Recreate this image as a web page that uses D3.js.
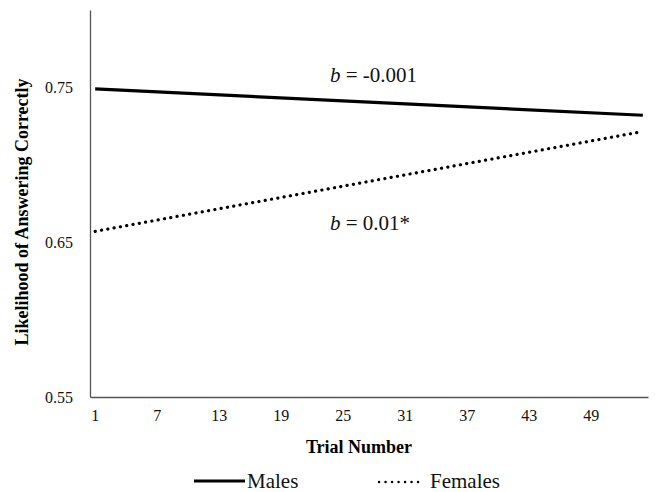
<!DOCTYPE html>
<html>
<head>
<meta charset="utf-8">
<script src="https://cdn.jsdelivr.net/npm/d3@7"></script>
<style>
  body { margin: 0; background: #fff; }
</style>
</head>
<body>
<div id="chart"></div>
<script>
// Categories: trial numbers 1..54
const trials = d3.range(1, 55);
const xTickLabels = [1, 7, 13, 19, 25, 31, 37, 43, 49];
const yTickLabels = [0.55, 0.65, 0.75];

// Fitted lines (start and end of each series)
const maleTrials = [1, 54];
const maleValues = [0.749, 0.732];
const femaleTrials = [1, 54];
const femaleValues = [0.657, 0.7215];

const seriesNames = ['Males', 'Females'];
const annotations = ['-0.001', '0.01*'];

const width = 656, height = 492;
const margin = { top: 10, right: 8, bottom: 95, left: 90 };
const serif = "'Liberation Serif', 'Times New Roman', 'DejaVu Serif', serif";

const svg = d3.select('#chart').append('svg')
    .attr('width', width)
    .attr('height', height)
    .attr('font-family', serif);

const x = d3.scaleBand()
    .domain(trials)
    .range([margin.left, width - margin.right]);

const y = d3.scaleLinear()
    .domain([0.55, 0.80])
    .range([height - margin.bottom, margin.top]);

const cx = d => x(d) + x.bandwidth() / 2;

// Axes
const yAxis = svg.append('g')
    .attr('transform', `translate(${margin.left},0)`)
    .call(d3.axisLeft(y).tickValues(yTickLabels).tickSize(0).tickPadding(17)
        .tickFormat(d3.format('.2f')));
yAxis.attr('font-family', serif);
yAxis.select('.domain').attr('stroke', '#555').attr('stroke-width', 1.3);
yAxis.selectAll('text').attr('font-size', 16).attr('fill', '#111');

const xAxis = svg.append('g')
    .attr('transform', `translate(0,${height - margin.bottom})`)
    .call(d3.axisBottom(x).tickValues(xTickLabels).tickSize(0).tickPadding(13));
xAxis.attr('font-family', serif);
xAxis.select('.domain').attr('stroke', '#555').attr('stroke-width', 1.3);
xAxis.selectAll('text').attr('font-size', 16).attr('fill', '#111');

// Axis titles
svg.append('text')
    .attr('transform', `translate(28,212) rotate(-90)`)
    .attr('text-anchor', 'middle')
    .attr('font-size', 18)
    .attr('font-weight', 'bold')
    .text('Likelihood of Answering Correctly');

svg.append('text')
    .attr('x', 359)
    .attr('y', 453)
    .attr('text-anchor', 'middle')
    .attr('font-size', 18)
    .attr('font-weight', 'bold')
    .text('Trial Number');

// Lines
const line = d3.line()
    .x(d => cx(d[0]))
    .y(d => y(d[1]));

svg.append('path')
    .datum(d3.zip(maleTrials, maleValues))
    .attr('d', line)
    .attr('fill', 'none')
    .attr('stroke', '#000')
    .attr('stroke-width', 3.2);

svg.append('path')
    .datum(d3.zip(femaleTrials, femaleValues))
    .attr('d', line)
    .attr('fill', 'none')
    .attr('stroke', '#000')
    .attr('stroke-width', 3.2)
    .attr('stroke-linecap', 'round')
    .attr('stroke-dasharray', '0.1,6.3');

// Slope annotations
const notes = [
    { x: 330, y: 82, val: annotations[0] },
    { x: 330, y: 230, val: annotations[1] }
];
notes.forEach(n => {
    const t = svg.append('text')
        .attr('x', n.x)
        .attr('y', n.y)
        .attr('font-size', 21)
        .attr('fill', '#111');
    t.append('tspan').attr('font-style', 'italic').text('b');
    t.append('tspan').text(` = ${n.val}`);
});

// Legend
const legend = svg.append('g');
const legendY = 481;
legend.append('line')
    .attr('x1', 194).attr('x2', 245)
    .attr('y1', legendY).attr('y2', legendY)
    .attr('stroke', '#000').attr('stroke-width', 3.2);
legend.append('text')
    .attr('x', 247).attr('y', legendY + 7)
    .attr('font-size', 21)
    .attr('fill', '#111')
    .text(seriesNames[0]);
legend.append('line')
    .attr('x1', 379).attr('x2', 424)
    .attr('y1', legendY + 1).attr('y2', legendY + 1)
    .attr('stroke', '#000').attr('stroke-width', 2.4)
    .attr('stroke-linecap', 'round')
    .attr('stroke-dasharray', '0.1,6.4');
legend.append('text')
    .attr('x', 430).attr('y', legendY + 7)
    .attr('font-size', 21)
    .attr('fill', '#111')
    .text(seriesNames[1]);
</script>
</body>
</html>
